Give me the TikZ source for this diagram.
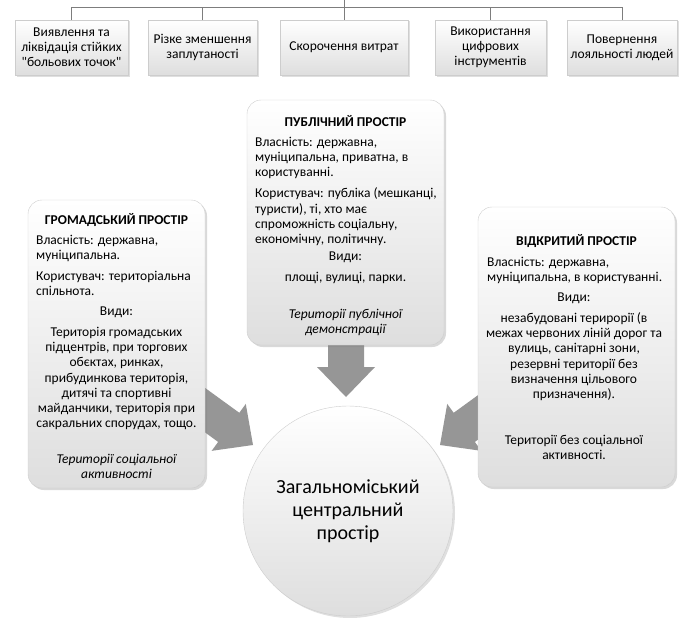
\documentclass[tikz,border=0pt]{standalone}
\usepackage{fontspec}
\setmainfont{Carlito}[Ligatures=TeXOff]
\usepackage{tikz}
\usetikzlibrary{calc, shadows}
\definecolor{arrowGray}{RGB}{150,150,150}
\definecolor{lineGray}{RGB}{125,125,125}
\definecolor{edgeGray}{RGB}{205,205,205}
\definecolor{shadeGray}{RGB}{222,222,222}
\newcommand{\BlockArrow}[3]{
	\def\ltip{#1}
	\def\lrot{#2}
	\def\llen{#3}
	\begin{scope}[shift={(\ltip)}, rotate=\lrot]
		\fill[arrowGray] (0,0) -- (-30,29) -- (-30,18) -- (-\llen,18) -- (-\llen,-18) -- (-30,-18) -- (-30,-29) -- cycle;
	\end{scope}
}

\begin{document}
\begin{tikzpicture}[x=1pt, y=-1pt,
	topbox/.style={draw=edgeGray, top color=white, bottom color=shadeGray, drop shadow={opacity=0.25, shadow xshift=1.5pt, shadow yshift=-1.5pt}, minimum height=55pt, align=center, inner sep=1pt, font=\fontsize{13.5}{15}\selectfont},
	mainbox/.style={draw=edgeGray, rounded corners=14pt, top color=white, bottom color=shadeGray, drop shadow={opacity=0.3, shadow xshift=2pt, shadow yshift=-2pt}},
	txt/.style={inner sep=0pt, font=\fontsize{13.5}{15.3}\selectfont},
	title/.style={inner sep=0pt, anchor=base, font=\fontsize{13.5}{15}\selectfont\bfseries}]

	\useasboundingbox (0,0) rectangle (685,618);

	\coordinate (root) at (344,0);
	\coordinate (bus) at (344,7);
	\coordinate (tipTop) at (346,397);
	\coordinate (tipLeft) at (253,445);
	\coordinate (tipRight) at (440,445);

	% top row
	\node[topbox, minimum width=113pt] (top1) at (71.5,47.5) {Виявлення та\\ ліквідація стійких\\ "больових точок"};
	\node[topbox, minimum width=109pt] (top2) at (202.5,47.5) {Різке зменшення\\ заплутаності};
	\node[topbox, minimum width=128pt] (top3) at (344,47.5) {Скорочення витрат};
	\node[topbox, minimum width=111pt] (top4) at (490.5,47.5) {Використання\\ цифрових\\ інструментів};
	\node[topbox, minimum width=110pt] (top5) at (622,47.5) {Повернення\\ лояльності людей};

	\draw[lineGray] (root) -- (top3.north);
	\foreach \t in {top1,top2,top4,top5}
		\draw[lineGray] (bus) -| (\t.north);

	% arrows to the centre
	\BlockArrow{tipTop}{-90}{52}
	\BlockArrow{tipLeft}{-36}{75}
	\BlockArrow{tipRight}{-144}{75}

	\node[mainbox, minimum width=177pt, minimum height=288pt] (grom) at (116.5,344) {};
	\node[mainbox, minimum width=197pt, minimum height=245pt] (pub) at (345.5,222.5) {};
	\node[mainbox, minimum width=197pt, minimum height=280pt] (vid) at (576.5,347) {};

	\node[title] (gromTitle) at (116.5,224.3) {ГРОМАДСЬКИЙ ПРОСТІР};
	\node[txt, anchor=north west, align=left] (gromOwn) at (36,233.4) {\strut Власність: державна,\\ муніципальна.\\[5.5pt] Користувач: територіальна\\ спільнота.};
	\node[txt, anchor=north, align=center] (gromKinds) at (116.5,304.4) {\strut Види:\\[5.5pt] Територія громадських\\ підцентрів, при торгових\\ обєктах, ринках,\\ прибудинкова територія,\\ дитячі та спортивні\\ майданчики, територія при\\ сакральних спорудах, тощо.};
	\node[txt, anchor=north, align=center, font=\fontsize{13.5}{14.5}\selectfont\itshape] (gromNote) at (116.5,453.4) {\strut Території соціальної\\ активності};

	\node[title] (pubTitle) at (345.5,126.3) {ПУБЛІЧНИЙ ПРОСТІР};
	\node[txt, anchor=north west, align=left] (pubOwn) at (255,135.4) {\strut Власність: державна,\\ муніципальна, приватна, в\\ користуванні.\\[5.5pt] Користувач: публіка (мешканці,\\ туристи), ті, хто має\\ спроможність соціальну,\\ економічну, політичну.};
	\node[txt, anchor=north, align=center] (pubKinds) at (345.5,249.4) {\strut Види:\\[5.5pt] площі, вулиці, парки.};
	\node[txt, anchor=north, align=center, font=\fontsize{13.5}{14.5}\selectfont\itshape] (pubNote) at (345.5,308.4) {\strut Території публічної\\ демонстрації};

	\node[title] (vidTitle) at (576.5,245.3) {ВІДКРИТИЙ ПРОСТІР};
	\node[txt, anchor=north west, align=left] (vidOwn) at (487,255.4) {\strut Власність: державна,\\ муніципальна, в користуванні.};
	\node[txt, anchor=north, align=center] (vidKinds) at (574,290.4) {\strut Види:\\[5.5pt] незабудовані терирорії (в\\ межах червоних ліній дорог та\\ вулиць, санітарні зони,\\ резервні території без\\ визначення цільового\\ призначення).};
	\node[txt, anchor=north, align=center, font=\fontsize{13.5}{14.5}\selectfont] (vidNote) at (574,434.4) {\strut Території без соціальної\\ активності.};

	\node[circle, draw=edgeGray, top color=white, bottom color=shadeGray, minimum size=210pt, drop shadow={opacity=0.25, shadow xshift=2pt, shadow yshift=-2pt}, align=center, font=\fontsize{20}{23}\selectfont] (city) at (348,511) {Загальноміський\\ центральний\\ простір};

\end{tikzpicture}
\end{document}
